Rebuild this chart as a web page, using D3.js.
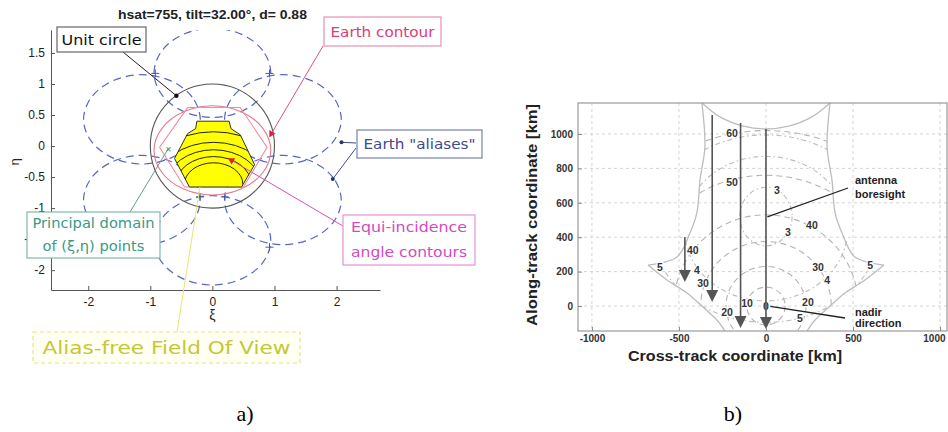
<!DOCTYPE html>
<html>
<head>
<meta charset="utf-8">
<script src="https://cdn.jsdelivr.net/npm/d3@7"></script>
<style>
  body { margin: 0; background: #fff; }
  svg { display: block; }
</style>
</head>
<body>
<div id="chart"></div>
<script>
// ---------- panel a) : (xi, eta) plane ----------
const tickXi  = [-2, -1, 0, 1, 2];
const tickEta = [-2, -1.5, -1, -0.5, 0, 0.5, 1, 1.5];

// earth contour
const earthXi  = [0.94, 0.81, 0.47, 0, -0.47, -0.81, -0.94, -0.81, -0.47, 0, 0.47, 0.81];
const earthEta = [-0.07, 0.29, 0.55, 0.65, 0.55, 0.29, -0.07, -0.43, -0.69, -0.79, -0.69, -0.43];

// shifts of the six earth "aliases"
const aliasXi  = [0, 1.136, 1.136, 0, -1.136, -1.136];
const aliasEta = [1.25, 0.5, -0.8, -1.45, -0.8, 0.5];

// inner pink hexagon
const hexXi  = [-0.4, 0.45, 0.88, 0.5, -0.45, -0.85];
const hexEta = [0.62, 0.62, -0.02, -0.66, -0.66, -0.02];

// alias-free field of view (yellow)
const fovXi  = [-0.25, 0.27, 0.3, 0.45, 0.68, 0.47, -0.37, -0.61, -0.4, -0.27];
const fovEta = [0.4, 0.4, 0.28, 0.18, -0.3, -0.66, -0.66, -0.2, 0.2, 0.28];

// equi-incidence contours inside the FOV
const incCenter = [0.02, -0.62];
const incRy = [0.35, 0.45, 0.56, 0.68, 0.85];

// blue "+" marks where aliases cross
const crossXi  = [-0.92, 0.92, -0.92, 0.92, -0.2, 0.2];
const crossEta = [1.17, 1.17, -1.63, -1.63, -0.82, -0.82];

// ---------- panel b) : ground coordinates [km] ----------
const tickX = [-1000, -500, 0, 500, 1000];
const tickY = [0, 200, 400, 600, 800, 1000];

const rimLeftLowX  = [-236, -282, -362, -454, -569, -678];
const rimLeftLowY  = [-145, -81, -6, 76, 151, 238];
const rimLeftUpX   = [-678, -511, -437, -397, -379, -351, -368];
const rimLeftUpY   = [238, 285, 424, 541, 733, 924, 1180];
const rimTopX      = [-368, -264, -130, 0, 130, 264, 368];
const rimTopY      = [1180, 1099, 1045, 1029, 1045, 1099, 1180];
const rimRightUpX  = [368, 351, 379, 397, 437, 511, 678];
const rimRightUpY  = [1180, 924, 733, 541, 424, 285, 238];
const rimRightLowX = [678, 569, 454, 362, 282, 236];
const rimRightLowY = [238, 151, 76, -6, -81, -145];

// incidence angle circles around nadir
const incAngle  = [10, 20, 30, 40, 50, 60];
const incRadius = [110, 230, 375, 530, 760, 1020];

// second family of contours (3, 4, 5) around the boresight
const levelName = [3, 4, 5];
const levelCy = [520, 450, 450];
const levelRx = [150, 470, 653];
const levelRy = [170, 420, 545];

const labelText = ["0", "10", "20", "20", "30", "30", "40", "40", "50", "60", "3", "3", "4", "4", "5", "5", "5"];
const labelX = [0, -109, -224, 241, -362, 299, -420, 264, -195, -195, 63, 126, -397, 351, -609, 598, 195];
const labelY = [0, 17, -35, 23, 134, 227, 326, 471, 721, 1006, 674, 430, 209, 151, 227, 238, -70];

// satellite track arrows
const arrowX   = [-466, -309, -146, 0];
const arrowTop = [401, 1110, 1064, 1029];
const arrowTip = [140, 23, -128, -134];

// ------------------------------------------------------------
const W = 948, H = 432;
const svg = d3.select("#chart").append("svg")
  .attr("width", W).attr("height", H)
  .style("font-family", "'Liberation Sans', Arial, sans-serif");

const defs = svg.append("defs");

draw_panel_a();
draw_panel_b();

// captions
svg.append("text").attr("x", 245).attr("y", 421).attr("text-anchor", "middle")
  .style("font-family", "'Liberation Serif', 'DejaVu Serif', serif").style("font-size", "22px").text("a)");
svg.append("text").attr("x", 733).attr("y", 421).attr("text-anchor", "middle")
  .style("font-family", "'Liberation Serif', 'DejaVu Serif', serif").style("font-size", "22px").text("b)");


function draw_panel_a() {
  const xL = d3.scaleLinear().domain([-2.6, 2.7]).range([51, 380]);
  const yL = d3.scaleLinear().domain([-2.32, 1.87]).range([290, 30]);
  const sx = v => xL(v) - xL(0);
  const sy = v => yL(0) - yL(v);

  const g = svg.append("g");

  defs.append("clipPath").attr("id", "clipA").append("rect")
    .attr("x", 51).attr("y", 30).attr("width", 329).attr("height", 260);

  const plot = g.append("g").attr("clip-path", "url(#clipA)");

  const earthPts = earthXi.map((v, i) => [v, earthEta[i]]);
  const closed = d3.line().x(d => xL(d[0])).y(d => yL(d[1])).curve(d3.curveCardinalClosed.tension(0));

  // aliases
  plot.selectAll("path.alias")
    .data(aliasXi.map((v, i) => [v, aliasEta[i]]))
    .enter().append("path")
    .attr("class", "alias")
    .attr("d", closed(earthPts))
    .attr("transform", d => `translate(${sx(d[0])},${-sy(d[1])})`)
    .attr("fill", "none")
    .attr("stroke", "#5566c8")
    .attr("stroke-width", 1.2)
    .attr("stroke-dasharray", "8,5");

  // crossing marks
  const crosses = plot.selectAll("g.cross")
    .data(crossXi.map((v, i) => [v, crossEta[i]]))
    .enter().append("g")
    .attr("transform", d => `translate(${xL(d[0])},${yL(d[1])})`)
    .attr("stroke", "#4455b0").attr("stroke-width", 1);
  crosses.append("line").attr("x1", -4).attr("x2", 4);
  crosses.append("line").attr("y1", -4).attr("y2", 4);

  // unit circle
  plot.append("ellipse")
    .attr("cx", xL(0)).attr("cy", yL(0))
    .attr("rx", sx(1)).attr("ry", sy(1))
    .attr("fill", "none").attr("stroke", "#555").attr("stroke-width", 1.1);

  // pink contours
  plot.append("path").attr("d", closed(earthPts))
    .attr("fill", "none").attr("stroke", "#e8788f").attr("stroke-width", 1.1);
  plot.append("path")
    .attr("d", d3.line().x(d => xL(d[0])).y(d => yL(d[1])).curve(d3.curveLinearClosed)(hexXi.map((v, i) => [v, hexEta[i]])))
    .attr("fill", "none").attr("stroke", "#f08c9c").attr("stroke-width", 1.1);

  // alias-free FOV
  const fovPath = d3.line().x(d => xL(d[0])).y(d => yL(d[1])).curve(d3.curveLinearClosed)(fovXi.map((v, i) => [v, fovEta[i]]));
  defs.append("clipPath").attr("id", "clipFov").append("path").attr("d", fovPath);
  plot.append("path").attr("d", fovPath)
    .attr("fill", "#ffff00").attr("stroke", "#333").attr("stroke-width", 1);

  plot.append("g").attr("clip-path", "url(#clipFov)")
    .selectAll("ellipse").data(incRy).enter().append("ellipse")
    .attr("cx", xL(incCenter[0])).attr("cy", yL(incCenter[1]))
    .attr("rx", d => sx(d * 1.35)).attr("ry", d => sy(d))
    .attr("fill", "none").attr("stroke", "#222").attr("stroke-width", 1);

  // axes
  const ax = g.append("g").attr("transform", "translate(0,290)")
    .call(d3.axisBottom(xL).tickValues(tickXi).tickSize(-4).tickSizeOuter(0).tickPadding(7).tickFormat(d => String(d)));
  const ay = g.append("g").attr("transform", "translate(51,0)")
    .call(d3.axisLeft(yL).tickValues(tickEta).tickSize(-4).tickSizeOuter(0).tickPadding(6).tickFormat(d => String(d)));
  [ax, ay].forEach(a => {
    a.select(".domain").attr("stroke", "#555");
    a.selectAll(".tick line").attr("stroke", "#555");
    a.selectAll("text").style("font-size", "12px").attr("fill", "#222")
      .style("font-family", "'Liberation Sans', Arial, sans-serif");
  });

  g.append("text").attr("x", xL(0)).attr("y", 320).attr("text-anchor", "middle")
    .style("font-size", "14px").attr("fill", "#222").text("ξ");
  g.append("text").attr("transform", "translate(19,162) rotate(-90)").attr("text-anchor", "middle")
    .style("font-size", "13px").attr("fill", "#222").text("η");

  g.append("text").attr("x", xL(0)).attr("y", 19).attr("text-anchor", "middle")
    .attr("textLength", 189).attr("lengthAdjust", "spacingAndGlyphs")
    .style("font-size", "12px").style("font-weight", "bold").attr("fill", "#222")
    .text("hsat=755, tilt=32.00°, d= 0.88");

  // ---- annotations ----
  function pointer(x1, y1, p, color) {
    g.append("line").attr("x1", x1).attr("y1", y1).attr("x2", xL(p[0])).attr("y2", yL(p[1]))
      .attr("stroke", color).attr("stroke-width", 1);
  }
  function dot(p, color, r) {
    g.append("circle").attr("cx", xL(p[0])).attr("cy", yL(p[1])).attr("r", r).attr("fill", color);
  }
  function box(x, y, w, h, lines, color, border, size, lens, dashed) {
    g.append("rect").attr("x", x).attr("y", y).attr("width", w).attr("height", h)
      .attr("fill", dashed ? "#fffff2" : "#fff").attr("stroke", border).attr("stroke-width", 1.2)
      .attr("stroke-dasharray", dashed ? "4,3" : null);
    const step = h / lines.length;
    lines.forEach((t, i) => {
      g.append("text").attr("x", x + w / 2).attr("y", y + step * i + step / 2 + size * 0.36)
        .attr("text-anchor", "middle")
        .attr("textLength", lens[i]).attr("lengthAdjust", "spacingAndGlyphs")
        .style("font-family", "'DejaVu Sans', sans-serif").style("font-size", size + "px")
        .attr("fill", color).text(t);
    });
  }

  pointer(123, 52, [-0.58, 0.81], "#222");
  dot([-0.58, 0.81], "#111", 2.2);
  box(57, 27, 89, 25, ["Unit circle"], "#111", "#666", 14, [80]);

  pointer(323, 46, [0.95, 0.2], "#e0507a");
  g.append("path").attr("d", d3.symbol(d3.symbolTriangle, 22)())
    .attr("transform", `translate(${xL(0.95)},${yL(0.2)}) rotate(90)`).attr("fill", "#e02040");
  box(324, 17, 117, 29, ["Earth contour"], "#dc3c78", "#e890b0", 14, [104]);

  pointer(356, 143, [2.08, 0.06], "#3f4b8f");
  pointer(356, 148, [1.94, -0.53], "#3f4b8f");
  dot([2.08, 0.06], "#2a3470", 2);
  dot([1.94, -0.53], "#2a3470", 2);
  box(357, 130, 125, 28, ["Earth \"aliases\""], "#3f4b8f", "#7480b0", 14, [112]);

  pointer(343, 226, [0.31, -0.23], "#d850b0");
  g.append("path").attr("d", d3.symbol(d3.symbolTriangle, 22)())
    .attr("transform", `translate(${xL(0.31)},${yL(-0.23)}) rotate(-60)`).attr("fill", "#e02040");
  box(343, 215, 132, 50, ["Equi-incidence", "angle contours"], "#d04cc0", "#e890dc", 13.5, [116, 116]);

  pointer(130, 212, [-0.71, -0.04], "#6a9a90");
  g.append("text").attr("x", xL(-0.71)).attr("y", yL(-0.04) + 4).attr("text-anchor", "middle")
    .style("font-size", "10px").attr("fill", "#2a9a5a").text("×");
  box(27, 212, 133, 46, ["Principal domain", "of (ξ,η) points"], "#3a9a88", "#80b8b0", 13.5, [122, 102]);

  pointer(177, 332, [-0.2, -0.66], "#e6e66a");
  box(33, 332, 267, 31, ["Alias-free Field Of View"], "#c6c63a", "#e4e48a", 18.5, [248], true);
}


function draw_panel_b() {
  const xR = d3.scaleLinear().domain([-1080, 1040]).range([578, 947]);
  const yR = d3.scaleLinear().domain([-145, 1180]).range([331, 103]);
  const sx = v => xR(v) - xR(0);
  const sy = v => yR(0) - yR(v);

  const g = svg.append("g");

  // grid
  g.append("g").selectAll("line").data(tickX).enter().append("line")
    .attr("x1", d => xR(d)).attr("x2", d => xR(d)).attr("y1", 103).attr("y2", 331)
    .attr("stroke", "#d4d4d4").attr("stroke-dasharray", "3,3");
  g.append("g").selectAll("line").data(tickY).enter().append("line")
    .attr("y1", d => yR(d)).attr("y2", d => yR(d)).attr("x1", 578).attr("x2", 947)
    .attr("stroke", "#d4d4d4").attr("stroke-dasharray", "3,3");

  // clip region bounded by the rim
  const rimPoly = [].concat(
    rimLeftLowX.map((v, i) => [v, rimLeftLowY[i]]),
    rimLeftUpX.map((v, i) => [v, rimLeftUpY[i]]),
    rimTopX.map((v, i) => [v, rimTopY[i]]),
    rimRightUpX.map((v, i) => [v, rimRightUpY[i]]),
    rimRightLowX.map((v, i) => [v, rimRightLowY[i]])
  );
  defs.append("clipPath").attr("id", "clipB").append("path")
    .attr("d", d3.line().x(d => xR(d[0])).y(d => yR(d[1])).curve(d3.curveLinearClosed)(rimPoly));

  const inner = g.append("g").attr("clip-path", "url(#clipB)");

  inner.selectAll("ellipse.inc").data(incRadius).enter().append("ellipse")
    .attr("class", "inc")
    .attr("cx", xR(0)).attr("cy", yR(0))
    .attr("rx", d => sx(d)).attr("ry", d => sy(d))
    .attr("fill", "none").attr("stroke", "#b4b4b4").attr("stroke-width", 1.1)
    .attr("stroke-dasharray", "6,4");

  inner.selectAll("ellipse.lev").data(levelName).enter().append("ellipse")
    .attr("class", "lev")
    .attr("cx", xR(0)).attr("cy", (d, i) => yR(levelCy[i]))
    .attr("rx", (d, i) => sx(levelRx[i])).attr("ry", (d, i) => sy(levelRy[i]))
    .attr("fill", "none").attr("stroke", "#bcbcbc").attr("stroke-width", 1.1)
    .attr("stroke-dasharray", "5,3,1.5,3");

  // rim (solid light gray)
  const curve = d3.line().x(d => xR(d[0])).y(d => yR(d[1])).curve(d3.curveCatmullRom);
  [[rimLeftLowX, rimLeftLowY], [rimLeftUpX, rimLeftUpY], [rimTopX, rimTopY],
   [rimRightUpX, rimRightUpY], [rimRightLowX, rimRightLowY]].forEach(s => {
    g.append("path").attr("d", curve(s[0].map((v, i) => [v, s[1][i]])))
      .attr("fill", "none").attr("stroke", "#bdbdbd").attr("stroke-width", 1.3);
  });

  // contour labels
  g.append("g").selectAll("text").data(labelText).enter().append("text")
    .attr("x", (d, i) => xR(labelX[i])).attr("y", (d, i) => yR(labelY[i]) + 4)
    .attr("text-anchor", "middle")
    .style("font-size", "10.5px").style("font-weight", "bold").attr("fill", "#333")
    .attr("stroke", "#fff").attr("stroke-width", 2.5).style("paint-order", "stroke")
    .text(d => d);

  // arrows
  const arr = g.append("g").selectAll("g").data(arrowX).enter().append("g");
  arr.append("line")
    .attr("x1", d => xR(d)).attr("x2", d => xR(d))
    .attr("y1", (d, i) => yR(arrowTop[i])).attr("y2", (d, i) => yR(arrowTip[i]) - 8)
    .attr("stroke", "#555").attr("stroke-width", 1.6);
  arr.append("path")
    .attr("d", (d, i) => {
      const x = xR(d), y = yR(arrowTip[i]);
      return `M${x},${y}L${x - 6},${y - 12}L${x + 6},${y - 12}Z`;
    })
    .attr("fill", "#555");

  // annotations
  g.append("line").attr("x1", 848).attr("y1", 188).attr("x2", xR(8)).attr("y2", yR(518))
    .attr("stroke", "#222").attr("stroke-width", 1.3);
  g.append("line").attr("x1", xR(25)).attr("y1", yR(-2)).attr("x2", 845).attr("y2", 318)
    .attr("stroke", "#222").attr("stroke-width", 1.3);
  [["antenna", 184], ["boresight", 198], ["nadir", 316], ["direction", 327]].forEach(t => {
    g.append("text").attr("x", 855).attr("y", t[1])
      .style("font-size", "11px").style("font-weight", "bold").attr("fill", "#222").text(t[0]);
  });

  // box and ticks
  g.append("rect").attr("x", 578).attr("y", 103).attr("width", 369).attr("height", 228)
    .attr("fill", "none").attr("stroke", "#999").attr("stroke-width", 1.2);

  const ax = g.append("g").attr("transform", "translate(0,331)")
    .call(d3.axisBottom(xR).tickValues(tickX).tickSize(-4).tickSizeOuter(0).tickPadding(4).tickFormat(d => String(d)));
  const ay = g.append("g").attr("transform", "translate(578,0)")
    .call(d3.axisLeft(yR).tickValues(tickY).tickSize(-4).tickSizeOuter(0).tickPadding(5).tickFormat(d => String(d)));
  [ax, ay].forEach(a => {
    a.select(".domain").remove();
    a.selectAll(".tick line").attr("stroke", "#888");
    a.selectAll("text").style("font-size", "10px").style("font-weight", "bold").attr("fill", "#333")
      .style("font-family", "'Liberation Sans', Arial, sans-serif");
  });
  // last label sits at the right edge of the page
  ax.selectAll(".tick text").filter(d => d === 1000).attr("text-anchor", "end").attr("x", 5);

  g.append("text").attr("transform", "translate(537,215) rotate(-90)").attr("text-anchor", "middle")
    .attr("textLength", 222).attr("lengthAdjust", "spacingAndGlyphs")
    .style("font-size", "14.5px").style("font-weight", "bold").attr("fill", "#222")
    .text("Along-track coordinate [km]");
  g.append("text").attr("x", 735).attr("y", 361).attr("text-anchor", "middle")
    .attr("textLength", 214).attr("lengthAdjust", "spacingAndGlyphs")
    .style("font-size", "14.5px").style("font-weight", "bold").attr("fill", "#222")
    .text("Cross-track coordinate [km]");
}
</script>
</body>
</html>
